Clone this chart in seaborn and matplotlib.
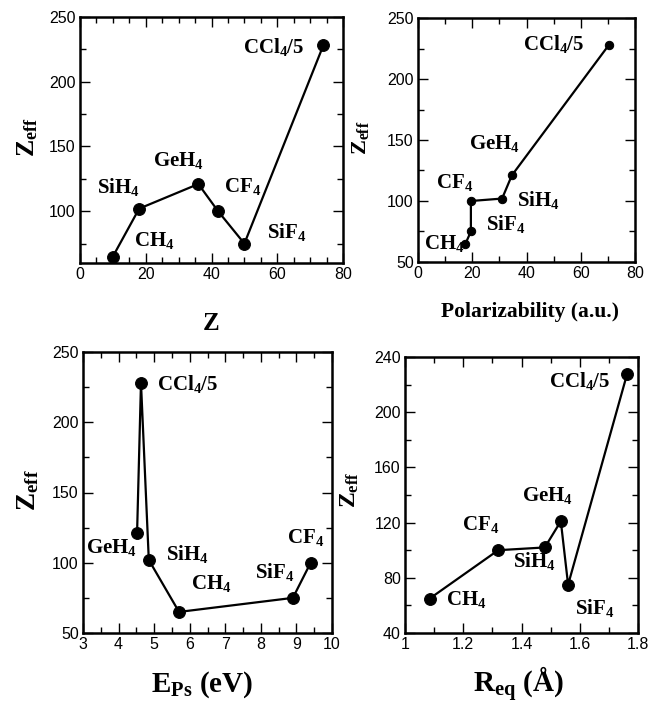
import matplotlib
matplotlib.use("Agg")
import matplotlib.pyplot as plt
import seaborn as sns
import pandas as pd
from matplotlib.ticker import MultipleLocator, FuncFormatter

# ---------------- data ----------------
molecules = ["CH4", "SiH4", "GeH4", "CF4", "SiF4", "CCl4/5"]
mol_labels = ["CH$_4$", "SiH$_4$", "GeH$_4$", "CF$_4$", "SiF$_4$", "CCl$_4$/5"]
zeff = [65, 102, 121, 100, 75, 228]
z_number = [10, 18, 36, 42, 50, 74]
polarizability = [17.5, 31, 34.6, 19.5, 19.5, 70.4]
e_ps = [5.7, 4.85, 4.52, 9.4, 8.9, 4.63]
r_eq = [1.085, 1.48, 1.535, 1.32, 1.56, 1.763]

# line order in each panel (path through molecules)
order_z = ["CH4", "SiH4", "GeH4", "CF4", "SiF4", "CCl4/5"]
order_pol = ["CH4", "SiF4", "CF4", "SiH4", "GeH4", "CCl4/5"]
order_eps = ["GeH4", "CCl4/5", "SiH4", "CH4", "SiF4", "CF4"]
order_req = ["CH4", "CF4", "SiH4", "GeH4", "SiF4", "CCl4/5"]

# label anchor positions (left, baseline) in data coords
lab_z = {"SiH4": (5.2, 114), "CH4": (16.4, 73), "GeH4": (22.2, 135),
         "CF4": (43.8, 115), "SiF4": (56.8, 79), "CCl4/5": (49.6, 222)}
lab_pol = {"CCl4/5": (38.7, 224), "GeH4": (18.8, 143), "CF4": (6.6, 111),
           "SiH4": (36.5, 96), "SiF4": (25, 76), "CH4": (2.2, 60.6)}
lab_eps = {"CCl4/5": (5.08, 223), "GeH4": (3.08, 107), "SiH4": (5.33, 102),
           "CH4": (6.03, 81), "SiF4": (7.83, 89), "CF4": (8.73, 114)}
lab_req = {"CCl4/5": (1.494, 218), "GeH4": (1.40, 135.6), "CF4": (1.196, 114.6),
           "SiH4": (1.37, 88), "CH4": (1.14, 60), "SiF4": (1.584, 54)}

df = pd.DataFrame({"molecule": molecules, "label": mol_labels, "Zeff": zeff,
                   "Z": z_number, "pol": polarizability, "eps": e_ps, "req": r_eq})

# ---------------- style ----------------
sns.set_style("ticks")
plt.rcParams["font.family"] = ["Liberation Sans", "DejaVu Sans"]
plt.rcParams["mathtext.fontset"] = "custom"
plt.rcParams["mathtext.rm"] = "Liberation Serif:bold"
plt.rcParams["mathtext.it"] = "Liberation Serif:bold"
plt.rcParams["mathtext.bf"] = "Liberation Serif:bold"
plt.rcParams["mathtext.default"] = "rm"
for k in ["axes.edgecolor", "xtick.color", "ytick.color", "text.color",
          "axes.labelcolor", "xtick.labelcolor", "ytick.labelcolor"]:
    plt.rcParams[k] = "black"

serif = dict(family=["Liberation Serif", "DejaVu Serif"], weight="bold")

fig = plt.figure(figsize=(6.51, 7.07), dpi=100)

W, H = 651.0, 707.0
def box(l, r, t, b):
    return [l / W, 1 - b / H, (r - l) / W, (b - t) / H]

panels = [
    dict(rect=box(80, 343, 17, 263), x="Z", order=order_z, labels=lab_z,
         xlim=(0, 80), ylim=(60, 250), xmaj=20, xmin=5, ymaj=50, ymin=25,
         xlabel="Z", xls=18, xlc=(0.5, -0.272), ylc=(-0.20, 0.51), yls=18.5,
         ms=8.5),
    dict(rect=box(418, 635, 18, 262), x="pol", order=order_pol, labels=lab_pol,
         xlim=(0, 80), ylim=(50, 250), xmaj=20, xmin=10, ymaj=50, ymin=25,
         xlabel="Polarizability (a.u.)", xls=15.5, xlc=(0.515, -0.225),
         ylc=(-0.263, 0.51), yls=16, ms=6),
    dict(rect=box(83, 332, 352, 633), x="eps", order=order_eps, labels=lab_eps,
         xlim=(3, 10), ylim=(50, 250), xmaj=1, xmin=0.5, ymaj=50, ymin=25,
         xlabel="E$_{\\mathrm{Ps}}$ (eV)", xls=21, xlc=(0.48, -0.21),
         ylc=(-0.22, 0.51), yls=19.5, ms=8.5),
    dict(rect=box(405, 638, 357, 633), x="req", order=order_req, labels=lab_req,
         xlim=(1, 1.8), ylim=(40, 240), xmaj=0.2, xmin=0.1, ymaj=40, ymin=20,
         xlabel="R$_{\\mathrm{eq}}$ (Å)", xls=21, xlc=(0.485, -0.217),
         ylc=(-0.236, 0.52), yls=17, ms=8.5),
]

for p in panels:
    ax = fig.add_axes(p["rect"])
    sub = df.set_index("molecule").loc[p["order"]].reset_index()
    sns.lineplot(data=sub, x=p["x"], y="Zeff", ax=ax, sort=False, estimator=None,
                 color="black", linewidth=1.6, marker="o", markersize=p["ms"],
                 markeredgecolor="black", markerfacecolor="black")
    for mol, lab in zip(df["molecule"], df["label"]):
        tx, ty = p["labels"][mol]
        ax.text(tx, ty, lab, ha="left", va="baseline", fontsize=15, **serif)
    ax.set_xlim(*p["xlim"])
    ax.set_ylim(*p["ylim"])
    ax.xaxis.set_major_locator(MultipleLocator(p["xmaj"]))
    ax.xaxis.set_minor_locator(MultipleLocator(p["xmin"]))
    ax.yaxis.set_major_locator(MultipleLocator(p["ymaj"]))
    ax.yaxis.set_minor_locator(MultipleLocator(p["ymin"]))
    ax.xaxis.set_major_formatter(FuncFormatter(lambda v, pos: f"{v:g}"))
    ax.yaxis.set_major_formatter(FuncFormatter(lambda v, pos: f"{v:g}"))
    ax.tick_params(which="both", direction="in", top=True, right=True,
                   labelsize=11.5, width=1.0, pad=3, colors="black")
    ax.tick_params(which="major", length=7)
    ax.tick_params(which="minor", length=4)
    for s in ax.spines.values():
        s.set_linewidth(1.8)
        s.set_color("black")
    ax.set_xlabel(p["xlabel"], fontsize=p["xls"], va="baseline", **serif)
    ax.xaxis.set_label_coords(*p["xlc"])
    ax.set_ylabel("Z$_{\\mathrm{eff}}$", fontsize=p["yls"], va="center", ha="center", **serif)
    ax.yaxis.set_label_coords(*p["ylc"])

fig.savefig("out.png", dpi=100)
